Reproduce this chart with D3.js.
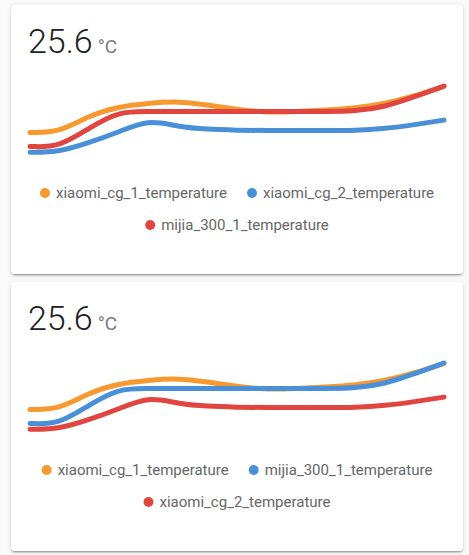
<!DOCTYPE html>
<html>
<head>
<meta charset="utf-8">
<script src="https://cdn.jsdelivr.net/npm/d3@7"></script>
<style>
  body { margin: 0; background: #fafafa; font-family: Roboto, "Noto Sans", sans-serif; }
  .card {
    position: absolute; left: 11px; width: 452px; height: 269px;
    background: #fff; border-radius: 4px;
    box-shadow: 0 2px 2px 0 rgba(0,0,0,.14), 0 1px 5px 0 rgba(0,0,0,.12), 0 3px 1px -2px rgba(0,0,0,.2);
  }
  .card svg { display: block; }
</style>
</head>
<body>
<div id="cards"></div>
<script>
// temperatures (°C), 15 samples across the shown period
const cg1Temp   = [24.40, 24.40, 24.84, 25.07, 25.15, 25.21, 25.11, 25.00, 24.91, 24.94, 24.98, 25.03, 25.14, 25.34, 25.59];
const cg2Temp   = [23.89, 23.90, 24.14, 24.41, 24.74, 24.55, 24.48, 24.46, 24.45, 24.45, 24.45, 24.45, 24.50, 24.60, 24.72];
const mijiaTemp = [24.04, 24.02, 24.52, 24.95, 24.94, 24.94, 24.94, 24.94, 24.94, 24.94, 24.94, 24.95, 25.06, 25.32, 25.60];

const entities = {
  "xiaomi_cg_1_temperature": cg1Temp,
  "xiaomi_cg_2_temperature": cg2Temp,
  "mijia_300_1_temperature": mijiaTemp
};
const lineColors = ["#f7992f", "#4a90d9", "#e0463f"];
const cardEntities = [
  ["xiaomi_cg_1_temperature", "xiaomi_cg_2_temperature", "mijia_300_1_temperature"],
  ["xiaomi_cg_1_temperature", "mijia_300_1_temperature", "xiaomi_cg_2_temperature"]
];
const stateValue = "25.6";
const stateUnit = "°C";

const W = 452, H = 269;

cardEntities.forEach((names, ci) => {
  const card = d3.select("#cards").append("div")
    .attr("class", "card")
    .style("top", (5 + ci * 277) + "px");

  const svg = card.append("svg").attr("width", W).attr("height", H);

  // header state
  const head = svg.append("text")
    .attr("x", 17)
    .attr("y", 48);
  head.append("tspan")
    .style("font-size", "34px")
    .style("font-weight", 300)
    .attr("fill", "#212121")
    .text(stateValue);
  head.append("tspan")
    .attr("dx", 5)
    .style("font-size", "19px")
    .attr("fill", "#7a7a7a")
    .text(stateUnit);

  const series = names.map(n => entities[n]);
  const all = series.flat();

  const x = d3.scaleLinear()
    .domain([0, cg1Temp.length - 1])
    .range([19, 433]);
  const y = d3.scaleLinear()
    .domain(d3.extent(all))
    .range([147.3, 81]);

  const line = d3.line()
    .x((d, i) => x(i))
    .y(d => y(d))
    .curve(d3.curveBasis);

  svg.selectAll(".line")
    .data(series)
    .join("path")
    .attr("class", "line")
    .attr("fill", "none")
    .attr("stroke", (d, i) => lineColors[i])
    .attr("stroke-width", 5)
    .attr("stroke-linecap", "round")
    .attr("stroke-linejoin", "round")
    .attr("d", line);

  // legend, wrapped and centered like a flex row
  const legend = svg.append("g");
  const items = legend.selectAll("g")
    .data(names)
    .join("g");
  items.append("circle")
    .attr("r", 5)
    .attr("cx", 5)
    .attr("fill", (d, i) => lineColors[i]);
  items.append("text")
    .attr("x", 16)
    .attr("y", 5)
    .style("font-size", "15px")
    .attr("fill", "#666")
    .text(d => d);

  const widths = [];
  items.each(function () {
    widths.push(16 + d3.select(this).select("text").node().getComputedTextLength());
  });
  const gap = 20, maxW = 430;
  const rows = [[]];
  let rowW = 0;
  widths.forEach((w, i) => {
    const add = rows[rows.length - 1].length ? gap + w : w;
    if (rowW + add > maxW && rows[rows.length - 1].length) {
      rows.push([i]);
      rowW = w;
    } else {
      rows[rows.length - 1].push(i);
      rowW += add;
    }
  });
  rows.forEach((row, r) => {
    const total = d3.sum(row, i => widths[i]) + gap * (row.length - 1);
    let cx = (W - total) / 2;
    row.forEach(i => {
      d3.select(items.nodes()[i]).attr("transform", `translate(${cx},${188 + r * 32})`);
      cx += widths[i] + gap;
    });
  });
});
</script>
</body>
</html>
